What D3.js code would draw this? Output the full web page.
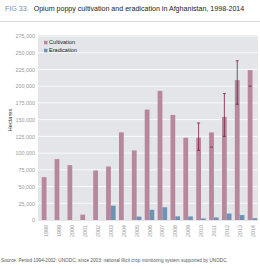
<!DOCTYPE html>
<html>
<head>
<meta charset="utf-8">
<script src="https://cdn.jsdelivr.net/npm/d3@7"></script>
<style>
  body { margin: 0; background: #fff; }
  svg { display: block; font-family: "Liberation Sans Narrow", "Liberation Sans", Arial, sans-serif; }
</style>
</head>
<body>
<div id="chart"></div>
<script>
const years = ['1998', '1999', '2000', '2001', '2002', '2003', '2004', '2005', '2006',
  '2007', '2008', '2009', '2010', '2011', '2012', '2013', '2014'];
const cultivation = [64000, 91000, 82000, 8000, 74000, 80000, 131000, 104000, 165000,
  193000, 157000, 123000, 123000, 131000, 154000, 209000, 224000];
const eradication = [0, 0, 0, 0, 0, 21430, 0, 5103, 15300,
  19047, 5480, 5351, 2316, 3810, 9672, 7348, 2692];
// ranges shown as whiskers (null = no upper part visible)
const errYears = ['2010', '2011', '2012', '2013', '2014'];
const errLow = [104000, 109000, 125000, 173000, 200000];
const errHigh = [145000, null, 189000, 238000, null];
const yTicks = d3.range(0, 275001, 25000);
const seriesNames = ['Cultivation', 'Eradication'];

const width = 260;
const height = 269;
const colors = ['#b7879c', '#6e93b2'];

const svg = d3.select('#chart')
  .append('svg')
  .attr('width', width)
  .attr('height', height);

// title
const title = svg.append('text')
  .attr('x', 5)
  .attr('y', 11)
  .attr('font-size', 7.1);
title.append('tspan').attr('fill', '#7a8fa6').text('FIG 33.');
title.append('tspan').attr('dx', 5).attr('fill', '#222')
  .text('Opium poppy cultivation and eradication in Afghanistan, 1998-2014');
svg.append('line')
  .attr('x1', 0).attr('x2', width)
  .attr('y1', 21.5).attr('y2', 21.5)
  .attr('stroke', '#d4d4d4')
  .attr('stroke-width', 0.8);

const y = d3.scaleLinear().domain([0, 275000]).range([220, 36]);
const x = d3.scaleBand().domain(years).range([38, 261])
  .paddingInner(0.26).paddingOuter(0.29);
const xs = d3.scaleBand().domain(seriesNames).range([0, x.bandwidth()]);

// plot background
svg.append('rect')
  .attr('x', 38).attr('y', 35)
  .attr('width', 220).attr('height', 186)
  .attr('fill', '#e3e5e8');

svg.append('g')
  .selectAll('line')
  .data(yTicks.slice(1))
  .join('line')
  .attr('x1', 38).attr('x2', 258)
  .attr('y1', (d) => y(d)).attr('y2', (d) => y(d))
  .attr('stroke', '#fff')
  .attr('stroke-width', 0.8);

// y axis
const yAxis = svg.append('g')
  .attr('transform', 'translate(35,0)')
  .call(d3.axisLeft(y).tickValues(yTicks).tickSize(0).tickPadding(0)
    .tickFormat(d3.format(',')));
yAxis.select('.domain').remove();
yAxis.selectAll('text').attr('font-size', 5.4).attr('fill', '#9a9a9a')
  .attr('font-family', 'inherit');

svg.append('text')
  .attr('transform', 'translate(12,120) rotate(-90)')
  .attr('text-anchor', 'middle')
  .attr('font-size', 5.6)
  .attr('fill', '#333')
  .text('Hectares');

// bars
const groups = svg.append('g')
  .selectAll('g')
  .data(years)
  .join('g')
  .attr('transform', (d) => `translate(${x(d)},0)`);

groups.append('rect')
  .attr('x', xs('Cultivation'))
  .attr('width', xs.bandwidth())
  .attr('y', (d, i) => y(cultivation[i]))
  .attr('height', (d, i) => y(0) - y(cultivation[i]))
  .attr('fill', colors[0]);

groups.append('rect')
  .attr('x', xs('Eradication'))
  .attr('width', xs.bandwidth())
  .attr('y', (d, i) => y(eradication[i]))
  .attr('height', (d, i) => y(0) - y(eradication[i]))
  .attr('fill', colors[1]);

// error whiskers
const err = svg.append('g')
  .attr('stroke', '#7e1a48')
  .attr('stroke-width', 0.8)
  .selectAll('g')
  .data(errYears)
  .join('g')
  .attr('transform', (d) => `translate(${x(d) + xs('Cultivation') + xs.bandwidth() / 2},0)`);
err.filter((d, i) => errHigh[i] !== null)
  .append('line')
  .attr('y1', (d) => y(errLow[errYears.indexOf(d)]))
  .attr('y2', (d) => y(errHigh[errYears.indexOf(d)]));
err.append('line')
  .attr('x1', -1.5).attr('x2', 1.5)
  .attr('y1', (d, i) => y(errLow[i]))
  .attr('y2', (d, i) => y(errLow[i]));
err.filter((d, i) => errHigh[i] !== null)
  .append('line')
  .attr('x1', -1.5).attr('x2', 1.5)
  .attr('y1', (d) => y(errHigh[errYears.indexOf(d)]))
  .attr('y2', (d) => y(errHigh[errYears.indexOf(d)]));

// x labels
svg.append('g')
  .selectAll('text')
  .data(years)
  .join('text')
  .attr('transform', (d) => `translate(${x(d) + x.bandwidth() / 2 + 2},225) rotate(-90)`)
  .attr('text-anchor', 'end')
  .attr('font-size', 5.4)
  .attr('fill', '#9a9a9a')
  .text((d) => d);

// legend
const legend = svg.append('g')
  .attr('transform', 'translate(44,44)')
  .selectAll('g')
  .data(seriesNames)
  .join('g')
  .attr('transform', (d, i) => `translate(0,${i * 8})`);
legend.append('rect')
  .attr('width', 3.5).attr('height', 3.5)
  .attr('y', -3.2)
  .attr('fill', (d, i) => colors[i]);
legend.append('text')
  .attr('x', 5)
  .attr('font-size', 5.6)
  .attr('fill', '#222')
  .text((d) => d);

// source
svg.append('text')
  .attr('x', 1)
  .attr('y', 262)
  .attr('font-size', 4.7)
  .attr('fill', '#555')
  .text('Source: Period 1994-2002: UNODC; since 2003: national illicit crop monitoring system supported by UNODC.');
</script>
</body>
</html>
